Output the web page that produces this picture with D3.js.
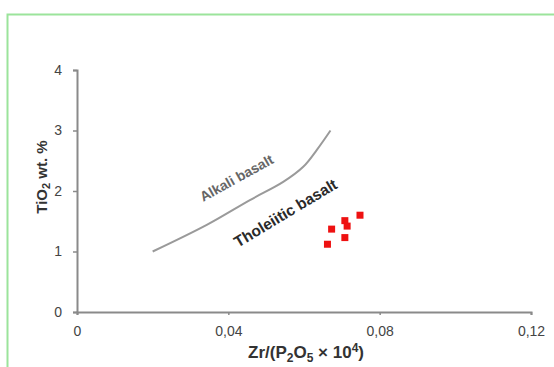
<!DOCTYPE html>
<html>
<head>
<meta charset="utf-8">
<script src="https://cdn.jsdelivr.net/npm/d3@7"></script>
<style>
  body { margin: 0; background: #fff; }
  svg { display: block; font-family: "Liberation Sans", Arial, sans-serif; }
</style>
</head>
<body>
<div id="chart"></div>
<script>
var width = 554;
var height = 367;

// Data
var xTicks = [0, 0.04, 0.08, 0.12];
var yTicks = [0, 1, 2, 3, 4];
var boundaryX = [0.020, 0.0343, 0.0457, 0.0545, 0.0598, 0.0634, 0.067];
var boundaryY = [1.00, 1.44, 1.85, 2.15, 2.40, 2.68, 3.00];
var sampleX = [0.0748, 0.0673, 0.0708, 0.0714, 0.0708, 0.0662];
var sampleY = [1.60, 1.37, 1.51, 1.42, 1.23, 1.12];

var margin = {left: 77, right: 23, top: 70, bottom: 55};

var svg = d3.select('#chart')
    .append('svg')
    .attr('width', width)
    .attr('height', height);

// green frame (top + left only)
svg.append('path')
    .attr('d', `M7.5,${height} V14.5 H${width}`)
    .attr('fill', 'none')
    .attr('stroke', '#9be49b')
    .attr('stroke-width', 2);

var x = d3.scaleLinear().domain([0, 0.12]).range([margin.left, width - margin.right]);
var y = d3.scaleLinear().domain([0, 4]).range([height - margin.bottom, margin.top]);

var fmt = d => d === 0 ? '0' : d3.format('.2f')(d).replace('.', ',');

var xAxis = svg.append('g')
    .attr('transform', `translate(0, ${y(0)})`)
    .call(d3.axisBottom(x).tickValues(xTicks).tickSize(3).tickPadding(11).tickFormat(fmt));

var yAxis = svg.append('g')
    .attr('transform', `translate(${x(0)}, 0)`)
    .call(d3.axisLeft(y).tickValues(yTicks).tickSize(4).tickPadding(11).tickFormat(d3.format('d')));

[xAxis, yAxis].forEach(function(a) {
  a.select('.domain').attr('stroke', '#8a8a8a').attr('stroke-width', 2);
  a.selectAll('.tick line').attr('stroke', '#8a8a8a').attr('stroke-width', 1.5);
  a.selectAll('.tick text').attr('fill', '#444').style('font-size', '14px');
});

// boundary line
var pts = boundaryX.map((v, i) => [v, boundaryY[i]]);
svg.append('path')
    .datum(pts)
    .attr('fill', 'none')
    .attr('stroke', '#9a9a9a')
    .attr('stroke-width', 2)
    .attr('d', d3.line().x(d => x(d[0])).y(d => y(d[1])).curve(d3.curveCatmullRom));

// field labels
svg.append('text')
    .attr('transform', 'translate(236.5,178) rotate(-29)')
    .attr('text-anchor', 'middle')
    .attr('dy', '0.35em')
    .attr('fill', '#666')
    .style('font-size', '14px')
    .style('font-weight', 'bold')
    .text('Alkali basalt');

svg.append('text')
    .attr('transform', 'translate(285.5,213) rotate(-31)')
    .attr('text-anchor', 'middle')
    .attr('dy', '0.35em')
    .attr('fill', '#2a2a2a')
    .style('font-size', '15.5px')
    .style('font-weight', 'bold')
    .text('Tholeiitic basalt');

// samples
svg.selectAll('rect.sample')
    .data(sampleX)
    .enter()
    .append('rect')
    .attr('class', 'sample')
    .attr('x', (d, i) => x(d) - 3.5)
    .attr('y', (d, i) => y(sampleY[i]) - 3.5)
    .attr('width', 7)
    .attr('height', 7)
    .attr('fill', '#ee1111');

// axis titles
var xLabel = svg.append('text')
    .attr('x', 306)
    .attr('y', 352)
    .attr('text-anchor', 'middle')
    .attr('dy', '0.35em')
    .attr('fill', '#333')
    .style('font-size', '17px')
    .style('font-weight', 'bold');
xLabel.append('tspan').text('Zr/(P');
xLabel.append('tspan').attr('dy', 4).style('font-size', '12px').text('2');
xLabel.append('tspan').attr('dy', -4).text('O');
xLabel.append('tspan').attr('dy', 4).style('font-size', '12px').text('5');
xLabel.append('tspan').attr('dy', -4).text(' \u00d7 10');
xLabel.append('tspan').attr('dy', -6).style('font-size', '12px').text('4');
xLabel.append('tspan').attr('dy', 6).text(')');

var yLabel = svg.append('text')
    .attr('transform', 'translate(42,177) rotate(-90)')
    .attr('text-anchor', 'middle')
    .attr('dy', '0.35em')
    .attr('fill', '#333')
    .style('font-size', '15px')
    .style('font-weight', 'bold');
yLabel.append('tspan').text('TiO');
yLabel.append('tspan').attr('dy', 3).style('font-size', '11px').text('2');
yLabel.append('tspan').attr('dy', -3).text(' wt. %');
</script>
</body>
</html>
